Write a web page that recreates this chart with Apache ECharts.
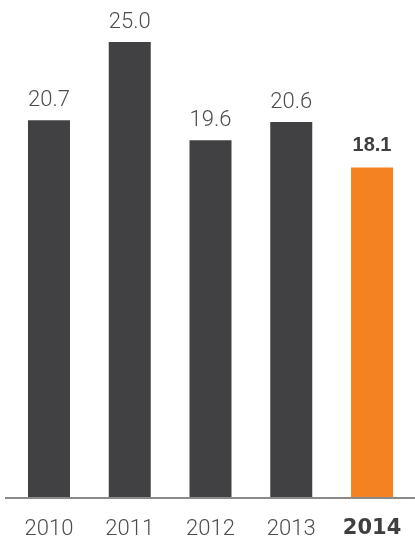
<!DOCTYPE html>
<html>
<head>
<meta charset="utf-8">
<script src="https://cdn.jsdelivr.net/npm/echarts@6/dist/echarts.min.js"></script>
<style>
  html, body { margin: 0; padding: 0; background: #fff; }
  #chart { width: 415px; height: 543px; }
</style>
</head>
<body>
<div id="chart"></div>
<script>
// Yearly values, the latest year highlighted
const years = ['2010', '2011', '2012', '2013', '2014'];
const values = [20.7, 25.0, 19.6, 20.6, 18.1];
const highlightYear = '2014';

const BAR_GREY = '#414042';
const BAR_ORANGE = '#F58220';
const TEXT_GREY = '#4d4d4d';
const FONT = 'Roboto, "Liberation Sans", Arial, sans-serif';

const chart = echarts.init(document.getElementById('chart'), null, { renderer: 'canvas' });

const barData = years.map((y, i) => {
  const hot = y === highlightYear;
  return {
    value: values[i],
    itemStyle: { color: hot ? BAR_ORANGE : BAR_GREY },
    label: hot ? {
      fontWeight: 'bold',
      fontFamily: '"Liberation Sans", Arial, sans-serif',
      fontSize: 20,
      distance: 12,
      color: '#3f3f3f'
    } : {}
  };
});

chart.setOption({
  animation: false,
  grid: { left: 8.6, right: 2.6, top: 42, bottom: 46, containLabel: false },
  xAxis: {
    type: 'category',
    data: years,
    axisLine: { show: false },
    axisTick: { show: false },
    axisLabel: {
      interval: 0,
      margin: 21,
      fontSize: 22,
      fontFamily: FONT,
      fontWeight: 300,
      color: TEXT_GREY,
      formatter: v => v === highlightYear ? '{b|' + v + '}' : v,
      rich: {
        b: { fontSize: 21, fontFamily: '"DejaVu Sans", sans-serif', fontWeight: 'bold', color: '#3f3f3f' }
      }
    }
  },
  yAxis: {
    type: 'value',
    min: 0,
    max: 25,
    show: false,
    splitLine: { show: false }
  },
  series: [{
    type: 'bar',
    data: barData,
    barWidth: 42,
    label: {
      show: true,
      position: 'top',
      distance: 9,
      fontSize: 22,
      fontFamily: FONT,
      fontWeight: 300,
      color: TEXT_GREY,
      formatter: p => p.value.toFixed(1)
    }
  }],
  graphic: [{
    type: 'line',
    shape: { x1: 5, y1: 498, x2: 415, y2: 498 },
    style: { stroke: '#8a8a8a', lineWidth: 2 },
    z: 10
  }]
});
</script>
</body>
</html>
